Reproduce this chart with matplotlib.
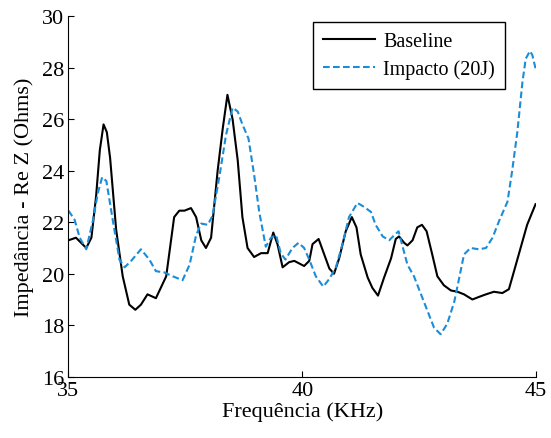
import matplotlib
matplotlib.use("Agg")
import matplotlib.pyplot as plt

# Frequency (KHz) and real part of impedance (Ohms)
freq_base = [35.00, 35.16, 35.38, 35.49, 35.59, 35.67, 35.75, 35.82, 35.89, 36.02, 36.16, 36.30,
             36.43, 36.55, 36.69, 36.87, 37.09, 37.26, 37.37, 37.48, 37.62, 37.73,
             37.84, 37.94, 38.05, 38.19, 38.30, 38.40, 38.51, 38.62, 38.72, 38.83,
             38.97, 39.12, 39.26, 39.38, 39.47, 39.58, 39.72, 39.83, 40.04, 40.15,
             40.22, 40.35, 40.47, 40.58, 40.68, 40.79, 40.93, 41.06, 41.16, 41.25,
             41.40, 41.50, 41.62, 41.75, 41.90, 42.00, 42.07, 42.18, 42.25, 42.36,
             42.46, 42.56, 42.66, 42.78, 42.89, 43.03, 43.18, 43.32, 43.46, 43.64,
             43.78, 43.93, 44.10, 44.28, 44.42, 44.53, 44.67, 44.81, 44.99]
z_base = [21.3, 21.4, 21.0, 21.4, 23.0, 24.8, 25.8, 25.5, 24.5, 21.7, 19.9, 18.8,
          18.6, 18.8, 19.2, 19.05, 19.9, 22.2, 22.45, 22.45, 22.55, 22.2,
          21.3, 21.0, 21.4, 24.0, 25.65, 26.95, 26.0, 24.4, 22.2, 21.0,
          20.65, 20.8, 20.8, 21.6, 21.15, 20.25, 20.45, 20.5, 20.3, 20.5,
          21.15, 21.35, 20.75, 20.2, 20.0, 20.6, 21.65, 22.2, 21.8, 20.75,
          19.85, 19.45, 19.15, 19.85, 20.6, 21.35, 21.45, 21.2, 21.1, 21.3,
          21.8, 21.9, 21.65, 20.75, 19.9, 19.55, 19.35, 19.3, 19.2, 19.0,
          19.1, 19.2, 19.3, 19.25, 19.4, 20.1, 21.0, 21.9, 22.7]

freq_imp = [35.00, 35.13, 35.24, 35.38, 35.52, 35.63, 35.72, 35.81, 35.95, 36.09,
            36.20, 36.34, 36.55, 36.73, 36.87, 37.05, 37.23, 37.44, 37.59, 37.73,
            37.84, 37.98, 38.08, 38.23, 38.37, 38.51, 38.62, 38.72, 38.85, 38.97,
            39.08, 39.22, 39.33, 39.44, 39.54, 39.64, 39.79, 39.92, 40.04, 40.15,
            40.29, 40.45, 40.58, 40.72, 40.86, 41.00, 41.18, 41.32, 41.47, 41.57,
            41.72, 41.86, 41.97, 42.06, 42.14, 42.25, 42.39, 42.54, 42.68, 42.82,
            42.96, 43.10, 43.25, 43.37, 43.46, 43.60, 43.78, 43.93, 44.07, 44.21,
            44.39, 44.49, 44.60, 44.71, 44.78, 44.87, 44.92, 45.00]
z_imp = [22.45, 22.1, 21.4, 20.95, 22.05, 23.15, 23.75, 23.6, 22.05, 20.55,
         20.25, 20.5, 20.95, 20.55, 20.1, 20.05, 19.9, 19.75, 20.35, 21.5,
         21.95, 21.9, 22.25, 23.8, 25.4, 26.45, 26.3, 25.8, 25.25, 23.85,
         22.4, 21.05, 21.4, 21.5, 20.8, 20.55, 21.0, 21.2, 21.0, 20.55,
         19.9, 19.5, 19.8, 20.25, 21.15, 22.2, 22.75, 22.6, 22.4, 21.9,
         21.45, 21.3, 21.5, 21.65, 21.1, 20.35, 19.9, 19.2, 18.55, 17.9,
         17.65, 18.05, 18.9, 19.95, 20.75, 21.0, 20.95, 21.0, 21.4, 22.05,
         22.8, 24.0, 25.5, 27.45, 28.35, 28.65, 28.5, 27.9]

x_ticks = [35, 40, 45]
y_ticks = [16, 18, 20, 22, 24, 26, 28, 30]

plt.rcParams["font.family"] = ["Liberation Serif", "DejaVu Serif"]

fig = plt.figure(figsize=(5.51, 4.39), dpi=100)
ax = fig.add_axes([0.1243, 0.1396, 0.8485, 0.8210])

ax.plot(freq_base, z_base, color="black", lw=1.5, label="Baseline")
ax.plot(freq_imp, z_imp, color="#1a8cd8", lw=1.5, ls=(0, (3.2, 1.6)),
        label="Impacto (20J)")

ax.set_xlim(35, 45)
ax.set_ylim(16, 30)
ax.set_xticks(x_ticks)
ax.set_yticks(y_ticks)
ax.tick_params(direction="in", length=4, width=0.8, labelsize=16, pad=3)
for side in ("top", "right"):
    ax.spines[side].set_visible(False)
for side in ("left", "bottom"):
    ax.spines[side].set_linewidth(0.8)

ax.set_xlabel("Frequência (KHz)", fontsize=16, labelpad=1)
ax.set_ylabel("Impedância - Re Z (Ohms)", fontsize=16, labelpad=6)

leg = ax.legend(loc="upper right", bbox_to_anchor=(0.934, 0.984), fontsize=14.5,
                frameon=True, fancybox=False, framealpha=1, edgecolor="black",
                handlelength=2.6, borderpad=0.5, labelspacing=0.4,
                handletextpad=0.4, borderaxespad=0)
leg.get_frame().set_linewidth(1.0)

fig.savefig("out.png", dpi=100)
